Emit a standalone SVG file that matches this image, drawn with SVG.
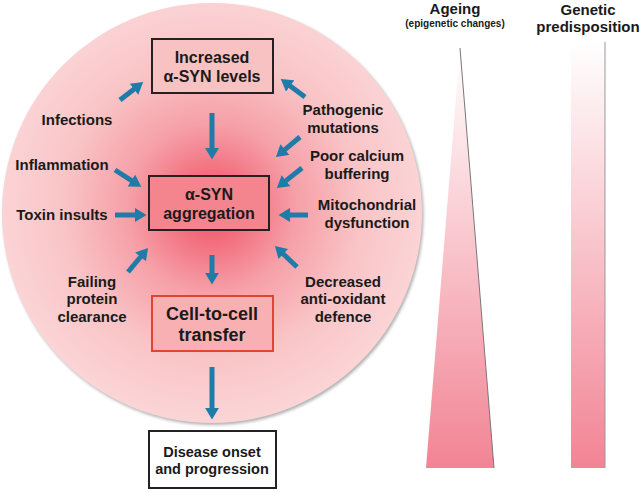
<svg xmlns="http://www.w3.org/2000/svg" width="640" height="493" viewBox="0 0 640 493">
<style>
text{font-family:"Liberation Sans",Arial,sans-serif;font-weight:bold;fill:#1a1a1a;text-anchor:middle}
.lbl{font-size:15px}
.box{font-size:16px}
.arr{stroke:#1f7ba8;stroke-width:5;fill:none;marker-end:url(#ah)}
</style>
<defs>
<radialGradient id="cg" gradientUnits="userSpaceOnUse" cx="212" cy="208" r="212">
<stop offset="0" stop-color="#ee4c64"/>
<stop offset="0.15" stop-color="#f26c7c"/>
<stop offset="0.4" stop-color="#f6a0a8"/>
<stop offset="0.7" stop-color="#f9c4c6"/>
<stop offset="1" stop-color="#fbd4d6"/>
</radialGradient>
<linearGradient id="vg" x1="0" y1="0" x2="0" y2="1">
<stop offset="0" stop-color="#ffffff"/>
<stop offset="1" stop-color="#f28494"/>
</linearGradient>
<filter id="sh" x="-10%" y="-10%" width="120%" height="120%">
<feGaussianBlur stdDeviation="1.5"/>
</filter>
<marker id="ah" markerUnits="userSpaceOnUse" markerWidth="12" markerHeight="14" viewBox="0 0 10 12" refX="1" refY="6" orient="auto">
<path d="M0,0 L10,6 L0,12 z" fill="#1f7ba8"/>
</marker>
</defs>
<g id="background">
<circle cx="213.5" cy="215" r="210" fill="#555" opacity="0.45" filter="url(#sh)"/>
<circle cx="212" cy="213" r="210" fill="url(#cg)"/>
</g>
<g id="ageing">
<polygon points="460,48 494,468 426,468" fill="url(#vg)"/>
<line x1="460" y1="48" x2="494" y2="468" stroke="#777" stroke-width="1"/>
<text x="455" y="14" class="lbl">Ageing</text>
<text x="455" y="27" style="font-size:10px">(epigenetic changes)</text>
</g>
<g id="genetic">
<rect x="571" y="42" width="34" height="426" fill="url(#vg)"/>
<line x1="605" y1="42" x2="605" y2="468" stroke="#999" stroke-width="1"/>
<text x="588" y="15" class="lbl">Genetic</text>
<text x="588" y="32" class="lbl">predisposition</text>
</g>
<g id="increased">
<rect x="152" y="39" width="121" height="54" fill="#f8c2c2" stroke="#222" stroke-width="2"/>
<text x="212" y="63" class="box">Increased</text>
<text x="212" y="82" class="box">α-SYN levels</text>
</g>
<g id="aggregation">
<rect x="149" y="176" width="120" height="54" fill="#f4848e" stroke="#222" stroke-width="2"/>
<text x="209" y="200" class="box">α-SYN</text>
<text x="209" y="219" class="box">aggregation</text>
</g>
<g id="transfer">
<rect x="152" y="296" width="121" height="55" fill="#f9b0b2" stroke="#e04532" stroke-width="2"/>
<text x="212" y="320" style="font-size:18px">Cell-to-cell</text>
<text x="212" y="341" style="font-size:18px">transfer</text>
</g>
<g id="disease">
<rect x="149" y="431" width="127" height="57" fill="#fff" stroke="#222" stroke-width="2"/>
<text x="212" y="457" style="font-size:14.5px">Disease onset</text>
<text x="212" y="474" style="font-size:14.5px">and progression</text>
</g>
<g id="infections"><text x="77" y="125" class="lbl">Infections</text></g>
<g id="pathogenic"><text x="343" y="115" class="lbl">Pathogenic</text><text x="343" y="133" class="lbl">mutations</text></g>
<g id="inflammation"><text x="62" y="170" class="lbl">Inflammation</text></g>
<g id="calcium"><text x="357" y="161" class="lbl">Poor calcium</text><text x="357" y="179" class="lbl">buffering</text></g>
<g id="toxin"><text x="62" y="220" class="lbl">Toxin insults</text></g>
<g id="mito"><text x="367" y="210" class="lbl">Mitochondrial</text><text x="367" y="228" class="lbl">dysfunction</text></g>
<g id="failing"><text x="92" y="287" class="lbl">Failing</text><text x="92" y="304" class="lbl">protein</text><text x="92" y="322" class="lbl">clearance</text></g>
<g id="antioxidant"><text x="343" y="287" class="lbl">Decreased</text><text x="343" y="304" class="lbl">anti-oxidant</text><text x="343" y="322" class="lbl">defence</text></g>
<g id="connectors">
<line class="arr" x1="212" y1="113" x2="212" y2="149"/>
<line class="arr" x1="120" y1="100" x2="134.9" y2="88.5"/>
<line class="arr" x1="305" y1="97" x2="289.2" y2="85.3"/>
<line class="arr" x1="300" y1="137" x2="284" y2="150.3"/>
<line class="arr" x1="302" y1="168" x2="285.1" y2="181.4"/>
<line class="arr" x1="308" y1="215" x2="289" y2="215"/>
<line class="arr" x1="115" y1="215" x2="136" y2="215"/>
<line class="arr" x1="115" y1="170" x2="132.4" y2="181.1"/>
<line class="arr" x1="128" y1="272" x2="141.3" y2="256"/>
<line class="arr" x1="297" y1="267" x2="282.5" y2="253.2"/>
<line class="arr" x1="212" y1="255" x2="212" y2="274"/>
<line class="arr" x1="212" y1="367" x2="212" y2="409"/>
</g>
</svg>
